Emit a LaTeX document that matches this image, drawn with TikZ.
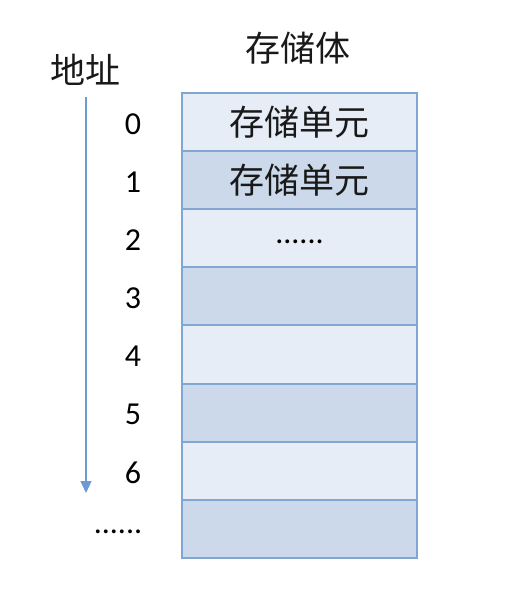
\documentclass[tikz,border=0pt]{standalone}
\usepackage{fontspec}
\setmainfont{Carlito}
\newfontfamily\cjk{Noto Sans CJK SC}
\usetikzlibrary{arrows.meta}
\definecolor{lightcell}{HTML}{E6EDF7}
\definecolor{darkcell}{HTML}{CBD9EB}
\definecolor{cellborder}{HTML}{7FA7D2}
\definecolor{arrowblue}{HTML}{6B9AD4}
\tikzset{
  cell/.style={draw=cellborder, line width=2pt, minimum width=235pt, minimum height=58.1pt, inner sep=0pt, anchor=north west},
  lcell/.style={cell, fill=lightcell},
  dcell/.style={cell, fill=darkcell},
  cjktext/.style={font=\cjk\fontsize{35}{40}\selectfont, text=black!90},
  numtext/.style={font=\fontsize{32}{36}\selectfont, text=black},
}
\begin{document}
\begin{tikzpicture}[x=1pt,y=-1pt]
\useasboundingbox[fill=white] (0,0) rectangle (507,614);
\node[lcell] (c0) at (181,92) {};
\node[dcell] (c1) at (181,150.1) {};
\node[lcell] (c2) at (181,208.2) {};
\node[dcell] (c3) at (181,266.3) {};
\node[lcell] (c4) at (181,324.4) {};
\node[dcell] (c5) at (181,382.5) {};
\node[lcell] (c6) at (181,440.6) {};
\node[dcell] (c7) at (181,498.7) {};
\node[cjktext] (t0) at (c0.center) {存储单元};
\node[cjktext] (t1) at (c1.center) {存储单元};
\node[numtext] (t2) at ([yshift=-4pt]c2.center) {......};
\node[cjktext] (title) at (298,48) {存储体};
\node[cjktext] (addr) at (85,70) {地址};
\foreach \i in {0,...,6} {
  \node[numtext] (n\i) at (133,124+58.1*\i) {\i};
}
\node[numtext] (ndots) at (118,532) {......};
\coordinate (as) at (86,97);
\coordinate (ae) at (86,493);
\draw[arrowblue, line width=1.2pt, -{Triangle[length=12pt,width=11pt]}] (as) -- (ae);
\end{tikzpicture}
\end{document}
